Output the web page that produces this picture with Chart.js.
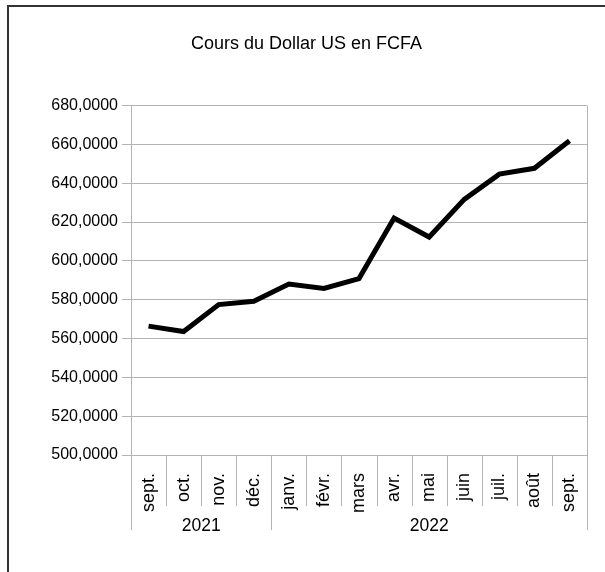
<!DOCTYPE html>
<html>
<head>
<meta charset="utf-8">
<script src="https://cdn.jsdelivr.net/npm/chart.js@4"></script>
<style>
  html, body { margin: 0; padding: 0; background: #fff; }
  #wrap { width: 605px; height: 572px; }
</style>
</head>
<body>
<div id="wrap"><canvas id="myChart" width="605" height="572"></canvas></div>
<script>
var months = ["sept.", "oct.", "nov.", "déc.", "janv.", "févr.", "mars", "avr.", "mai", "juin", "juil.", "août", "sept."];
var years = ["2021", "2022"];
var yearStarts = [0, 4]; // index of first month of each year
var rates = [566.4, 563.6, 577.5, 579.2, 588.1, 585.8, 590.9, 622.1, 612.3, 631.7, 644.7, 647.7, 661.9];
var titleText = "Cours du Dollar US en FCFA";

var gridColor = "#b3b3b3";
var fontFamily = "'Liberation Sans', Arial, sans-serif";

// separators, group labels, frame lines
var groupAxis = {
    id: "groupAxis",
    afterLayout: function (chart) {
        // title sits a bit right of the plot's centre in the original
        chart.titleBlock.left = 26;
    },
    afterDraw: function (chart) {
        var ctx = chart.ctx;
        var area = chart.chartArea;
        var step = (area.right - area.left) / months.length;
        ctx.save();
        ctx.strokeStyle = gridColor;
        ctx.lineWidth = 1;
        // right border of plot
        ctx.beginPath();
        ctx.moveTo(area.right + 0.5, area.top);
        ctx.lineTo(area.right + 0.5, area.bottom);
        ctx.stroke();
        for (var i = 0; i <= months.length; i++) {
            var px = Math.round(area.left + i * step) + 0.5;
            var isGroup = i === months.length || yearStarts.indexOf(i) >= 0;
            ctx.beginPath();
            ctx.moveTo(px, area.bottom);
            ctx.lineTo(px, area.bottom + (isGroup ? 75 : 51));
            ctx.stroke();
        }
        ctx.fillStyle = "#000";
        ctx.font = "17.5px " + fontFamily;
        ctx.textAlign = "center";
        ctx.textBaseline = "middle";
        for (var g = 0; g < years.length; g++) {
            var a = yearStarts[g];
            var b = g + 1 < yearStarts.length ? yearStarts[g + 1] : months.length;
            var cx = area.left + (a + b) / 2 * step;
            ctx.fillText(years[g], cx, area.bottom + 71);
        }
        // outer frame (left and top)
        ctx.strokeStyle = "#333";
        ctx.lineWidth = 2;
        ctx.beginPath();
        ctx.moveTo(8, 572);
        ctx.lineTo(8, 6);
        ctx.lineTo(605, 6);
        ctx.stroke();
        ctx.restore();
    }
};

var ctx = document.getElementById("myChart").getContext("2d");
var myChart = new Chart(ctx, {
    type: "line",
    data: {
        labels: months,
        datasets: [{
            label: titleText,
            data: rates,
            borderColor: "#000",
            borderWidth: 5,
            pointRadius: 0,
            tension: 0,
            fill: false
        }]
    },
    options: {
        responsive: false,
        animation: false,
        layout: { padding: { left: 0, right: 18, top: 0, bottom: 0 } },
        plugins: {
            legend: { display: false },
            tooltip: { enabled: false },
            title: {
                display: true,
                text: titleText,
                color: "#000",
                font: { family: fontFamily, size: 18, weight: "normal" },
                padding: { top: 33, bottom: 51 }
            }
        },
        scales: {
            x: {
                offset: true,
                grid: { drawOnChartArea: false, drawTicks: false },
                border: { color: gridColor },
                ticks: {
                    color: "#000",
                    font: { family: fontFamily, size: 18 },
                    minRotation: 90,
                    maxRotation: 90,
                    autoSkip: false,
                    padding: 18
                },
                afterFit: function (scale) {
                    scale.height = 117;
                    scale.paddingLeft = 0;
                    scale.paddingRight = 0;
                }
            },
            y: {
                min: 500,
                max: 680,
                grid: { color: gridColor, tickLength: 9 },
                border: { color: gridColor },
                ticks: {
                    stepSize: 20,
                    color: "#000",
                    font: { family: fontFamily, size: 16 },
                    padding: 4,
                    callback: function (v) { return v.toFixed(4).replace(".", ","); }
                },
                afterFit: function (scale) { scale.width = 131; }
            }
        }
    },
    plugins: [groupAxis]
});
</script>
</body>
</html>
